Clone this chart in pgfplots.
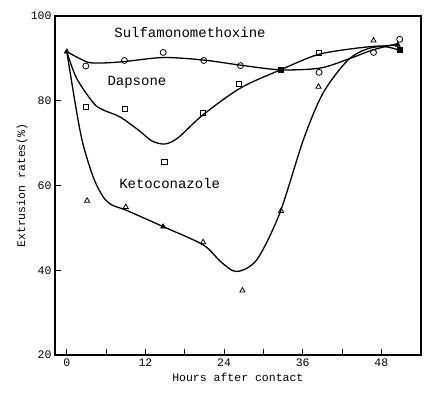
\documentclass[border=0pt]{standalone}
\usepackage{fontspec}
\setmainfont{Liberation Mono}
\usepackage{pgfplots}
\pgfplotsset{compat=1.18}
\begin{document}
\begin{tikzpicture}[x=1pt,y=1pt]
\useasboundingbox (-55,-41) rectangle (385,355);
\begin{axis}[
 at={(0,0)}, anchor=south west,
 width=365.7pt, height=339pt, scale only axis,
 xmin=-1.8, xmax=54, ymin=20, ymax=100,
 xtick={0,12,24,36,48}, minor xtick={6,18,30,42},
 ytick={20,40,60,80,100},
 xtick pos=bottom, ytick pos=left,
 tick align=inside,
 major tick length=6pt, minor tick length=6pt,
 every tick/.style={line width=1pt, black},
 axis line style={line width=2pt},
 tick label style={font=\fontsize{11.5}{12}\selectfont},
 /pgf/number format/assume math mode=true,
 xlabel={Hours after contact}, ylabel={Extrusion rates(\%)},
 label style={font=\fontsize{11.5}{12}\selectfont},
 ylabel style={yshift=-3.5pt},
 clip=false,
]
% fitted curves
\addplot[black, line width=1.3pt, smooth, tension=0.5] coordinates {
 (0,91.6) (3,89.2) (5,88.9) (8.5,89.2) (14.7,90.2) (20.9,89.6) (26.5,88.4)
 (32.6,87.3) (38.6,87.7) (42.9,89.8) (46.7,92.0) (50.6,93.5)};
\addplot[black, line width=1.3pt, smooth, tension=0.5] coordinates {
 (0,91.6) (1.5,85.3) (4.1,79.4) (5.6,77.8) (8.1,76.2) (11,73) (13,70.5) (15,69.8)
 (17,71.3) (20.8,76.7) (26.5,83) (32.6,87.3) (38.1,90.8) (42.7,92.1) (47.8,92.9) (50.6,92.0)};
\addplot[black, line width=1.3pt, smooth, tension=0.5] coordinates {
 (0,91.6) (1.5,77.4) (2.5,69.6) (4.1,61.7) (5.6,57.2) (7,55.3) (9,54.2) (14.7,50.3)
 (20.8,46) (23.5,42) (25.9,39.7) (29,42.5) (32.5,53.5) (36.1,70.8) (39.1,81.8)
 (42.9,89.6) (46.2,92.4) (50.6,93.2)};
% data points
\addplot[only marks, mark=o, mark size=3pt, mark options={line width=0.8pt}] coordinates {
 (2.9,88.2) (8.8,89.5) (14.7,91.4) (20.9,89.5) (26.5,88.3) (38.5,86.7) (46.8,91.4) (50.8,94.5)};
\addplot[only marks, mark=square, mark size=2.6pt, mark options={line width=0.8pt}] coordinates {
 (2.9,78.6) (8.9,78.0) (14.9,65.5) (20.8,77.1) (26.3,83.9) (38.5,91.2)};
\addplot[only marks, mark=square*, mark size=2.6pt] coordinates {(32.6,87.3) (50.8,92.0)};
\addplot[only marks, mark=triangle, mark size=3pt, mark options={line width=0.8pt}] coordinates {
 (3.1,56.4) (9.0,54.9) (20.8,46.6) (26.8,35.2) (32.7,54.0) (38.4,83.3) (46.8,94.2)};
\addplot[only marks, mark=triangle*, mark size=3pt] coordinates {(0,91.6) (14.7,50.3) (50.5,93.2)};
% labels
\node[font=\fontsize{14}{16}\selectfont] at (axis cs:18.8,96) {Sulfamonomethoxine};
\node[font=\fontsize{14}{16}\selectfont] at (axis cs:10.7,84.3) {Dapsone};
\node[font=\fontsize{14}{16}\selectfont] at (axis cs:15.7,60.4) {Ketoconazole};
\end{axis}
\end{tikzpicture}
\end{document}
